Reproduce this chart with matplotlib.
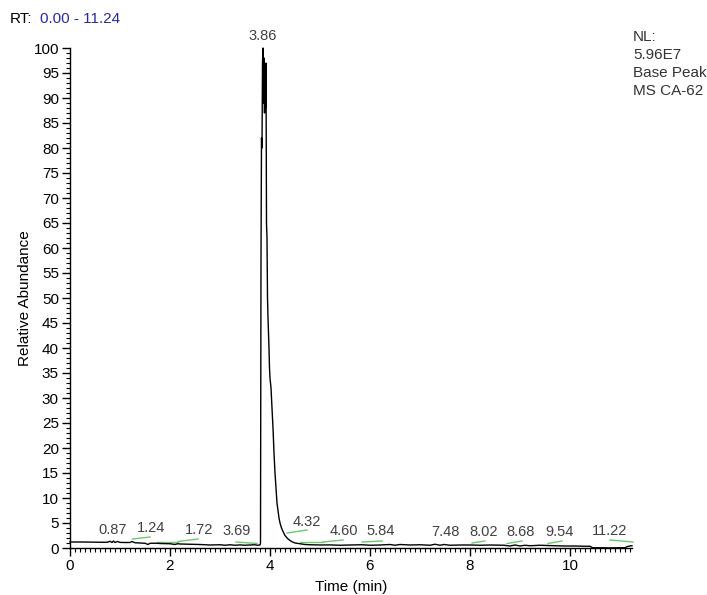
import matplotlib
matplotlib.use("Agg")
import matplotlib.pyplot as plt
from matplotlib.ticker import MultipleLocator

plt.rcParams['font.family'] = ['Liberation Sans', 'DejaVu Sans']

# ---- data ----
rt_min = [0.00, 0.20, 0.40, 0.60, 0.75, 0.80, 0.84, 0.87, 0.90, 0.95, 1.00, 1.10, 1.20,
          1.24, 1.30, 1.40, 1.50, 1.56, 1.60, 1.72, 1.80, 2.00, 2.10, 2.15, 2.20, 2.40,
          2.60, 2.80, 3.00, 3.10, 3.20, 3.30, 3.40, 3.50, 3.60, 3.69, 3.75, 3.80, 3.81,
          3.82, 3.83, 3.84, 3.85, 3.86, 3.87, 3.88, 3.89, 3.90, 3.91, 3.92, 3.93, 3.94,
          3.95, 3.96, 3.97, 3.98, 3.99, 4.00, 4.02, 4.04, 4.06, 4.08, 4.10, 4.12, 4.14,
          4.16, 4.18, 4.20, 4.23, 4.26, 4.30, 4.35, 4.40, 4.45, 4.50, 4.60, 4.70, 4.80,
          5.00, 5.20, 5.40, 5.60, 5.84, 6.00, 6.20, 6.40, 6.50, 6.60, 6.80, 7.00, 7.20,
          7.30, 7.40, 7.48, 7.60, 7.80, 8.02, 8.20, 8.40, 8.68, 8.80, 8.90, 9.00, 9.10,
          9.20, 9.40, 9.54, 9.70, 9.90, 10.10, 10.30, 10.40, 10.45, 10.60, 10.80, 11.00,
          11.10, 11.15, 11.22, 11.24]
abundance = [1.20, 1.20, 1.18, 1.15, 1.15, 1.35, 1.10, 1.40, 1.10, 1.30, 1.12, 1.10, 1.10,
             1.30, 1.05, 1.00, 0.95, 0.70, 0.95, 0.95, 0.90, 0.85, 0.70, 0.85, 0.80, 0.75,
             0.70, 0.60, 0.65, 0.55, 0.65, 0.55, 0.62, 0.55, 0.60, 0.65, 0.55, 0.60, 1.0,
             58, 82, 80, 97, 100, 89, 98, 87, 96, 88, 97, 65, 62,
             50, 46, 43, 40, 36, 34, 32, 28, 24, 19, 15, 12, 9,
             7.5, 6, 5, 4, 3.3, 2.5, 1.9, 1.5, 1.2, 1.0, 0.85, 0.70, 0.65,
             0.60, 0.62, 0.55, 0.60, 0.65, 0.55, 0.60, 0.70, 0.55, 0.70, 0.60, 0.65, 0.55,
             0.75, 0.55, 0.70, 0.55, 0.60, 0.60, 0.55, 0.60, 0.55, 0.40, 0.60, 0.40, 0.55,
             0.45, 0.55, 0.50, 0.45, 0.40, 0.40, 0.35, 0.35, 0.05, 0.05, 0.02, 0.05,
             0.05, 0.30, 0.45, 0.45]

# integration baselines (green): start time, start level, end time, end level
base_t0 = [1.25, 1.74, 2.16, 3.32, 4.34, 4.60, 5.06, 5.84, 8.04, 8.74, 9.56, 10.80]
base_y0 = [1.8, 1.2, 1.3, 1.2, 3.0, 1.2, 1.2, 1.2, 1.0, 0.9, 0.9, 1.6]
base_t1 = [1.60, 2.16, 2.56, 3.74, 4.74, 5.06, 5.46, 6.24, 8.30, 9.04, 9.84, 11.26]
base_y1 = [2.2, 1.2, 1.8, 0.9, 3.6, 1.2, 1.6, 1.4, 1.4, 1.4, 1.4, 1.2]

# peak labels: text, x position (min), y position (bottom of text)
peak_labels = ["0.87", "1.24", "1.72", "3.69", "3.86", "4.32", "4.60", "5.84",
               "7.48", "8.02", "8.68", "9.54", "11.22"]
label_x = [0.86, 1.63, 2.59, 3.33, 3.86, 4.73, 5.47, 6.22, 7.50, 8.27, 9.02, 9.80, 10.80]
label_y = [2.3, 2.5, 2.1, 2.0, 101.0, 3.8, 2.0, 2.0, 1.9, 1.9, 1.9, 1.9, 2.0]

x_ticks = [0, 2, 4, 6, 8, 10]
y_ticks = list(range(0, 101, 5))

# ---- figure ----
fig = plt.figure(figsize=(7.07, 5.95), dpi=100)
ax = fig.add_axes([70/707, 47/595, 562/707, 500/595])

ax.plot(rt_min, abundance, color='black', lw=1.0, clip_on=False, zorder=3)
for t0, y0, t1, y1 in zip(base_t0, base_y0, base_t1, base_y1):
    ax.plot([t0, t1], [y0, y1], color='#6cc86c', lw=1.0, zorder=2, clip_on=False)

for txt, x, y in zip(peak_labels, label_x, label_y):
    ax.text(x, y, txt, ha='center', va='bottom', fontsize=10.5, color='#404040',
            clip_on=False)

ax.set_xlim(0, 11.24)
ax.set_ylim(0, 100)
for s in ['top', 'right']:
    ax.spines[s].set_visible(False)
ax.spines['left'].set_linewidth(1.0)
ax.spines['bottom'].set_linewidth(1.0)

ax.set_xticks(x_ticks)
ax.set_yticks(y_ticks)
ax.xaxis.set_minor_locator(MultipleLocator(0.1))
ax.yaxis.set_minor_locator(MultipleLocator(1))
ax.tick_params(axis='both', which='major', direction='out', length=6, width=1,
               labelsize=11, colors='black', pad=2)
ax.tick_params(axis='both', which='minor', direction='out', length=3, width=0.8)

ax.set_xlabel('Time (min)', fontsize=11)
ax.xaxis.set_label_coords(0.5, -0.065)
ax.set_ylabel('Relative Abundance', fontsize=11)
ax.yaxis.set_label_coords(-0.068, 0.5)

fig.text(10/707, 1 - 19/595, 'RT:', fontsize=11, color='black', va='center')
fig.text(40/707, 1 - 19/595, '0.00 - 11.24', fontsize=11, color='#2a2aa0', va='center')

for i, line in enumerate(['NL:', '5.96E7', 'Base Peak', 'MS CA-62']):
    fig.text(633/707, 1 - (37 + i * 18) / 595, line, fontsize=11, color='#333333',
             va='center', ha='left')

fig.savefig('out.png', dpi=100)
